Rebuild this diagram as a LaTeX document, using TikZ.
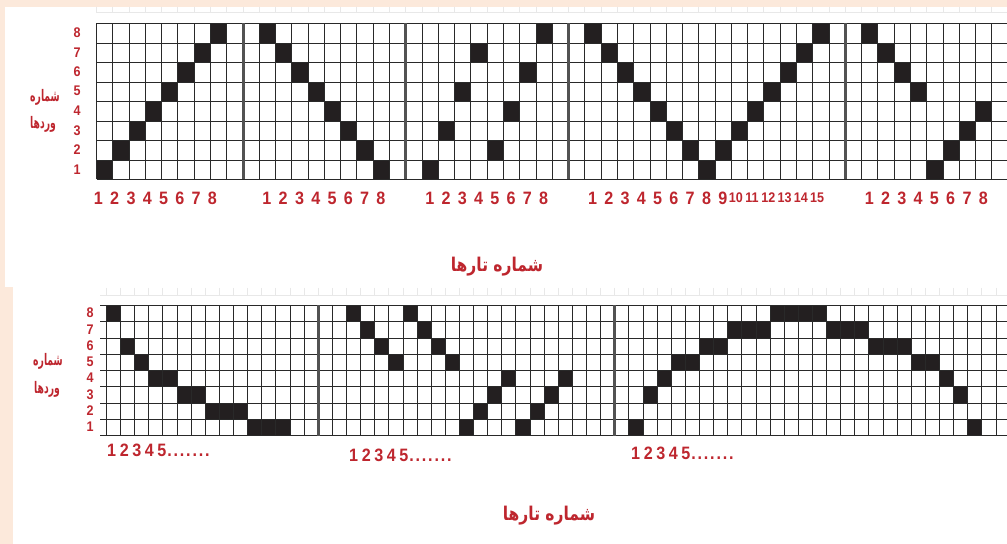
\documentclass[tikz,border=0pt]{standalone}
\usepackage{fontspec}
\setmainfont{Liberation Sans}
\newfontfamily\cifras[FakeStretch=0.9]{Liberation Sans}
\newfontfamily\arabicfont[Script=Arabic,FakeStretch=0.58]{DejaVu Sans}
\newfontfamily\arabictitulo[Script=Arabic,FakeStretch=0.82]{DejaVu Sans}
\TeXXeTstate=1
\definecolor{rojo}{RGB}{190,38,46}
\definecolor{durazno}{RGB}{252,233,219}
\definecolor{oscuro}{RGB}{35,31,32}
\newcommand{\serie}{1\kern3.6pt 2\kern3.6pt 3\kern3.6pt 4\kern3.6pt 5\kern1pt
  .\kern1.8pt.\kern1.8pt.\kern1.8pt.\kern1.8pt.\kern1.8pt.\kern1.8pt.}

\begin{document}
\begin{tikzpicture}[x=1bp,y=-1bp,
    declare function={xa(\i)=round(96+\i*16.28)+0.5; ya(\j)=round(179-\j*19.5)+0.5;
      xb(\i)=round(106+\i*14.12)+0.5; yb(\j)=round(435-\j*16.25)+0.5;},
    celda/.style={fill=oscuro},
    linea/.style={draw=black!84,line width=1.7bp},
    corte/.style={draw=black!68,line width=3bp},
    sombra/.style={draw=black!9,line width=0.8bp},
    cifra/.style={text=rojo,inner sep=0pt,font=\cifras\bfseries\fontsize{18}{18}\selectfont},
    cifrita/.style={text=rojo,inner sep=0pt,font=\cifras\bfseries\fontsize{14}{14}\selectfont},
    fila/.style={text=rojo,inner sep=0pt,font=\cifras\bfseries\fontsize{14}{14}\selectfont},
    rotulo/.style={text=rojo,inner sep=0pt,font=\arabicfont\bfseries\fontsize{16}{16}\selectfont},
    titulo/.style={text=rojo,inner sep=0pt,font=\arabictitulo\bfseries\fontsize{19}{19}\selectfont}]
    \useasboundingbox (0,0) rectangle (1007,544);
    \clip (0,0) rectangle (1007,544);

    % Fondo
    \fill[durazno] (0,0) rectangle (1007,544);
    \fill[white] (5,7) rectangle (1007,287);
    \fill[white] (13,287) rectangle (1007,544);

    % Marcas claras
    \draw[sombra] (96,12) -- (1007,12);
    \foreach \i in {0,...,56} \draw[sombra] ({xa(\i)},7) -- ({xa(\i)},12);
    \draw[sombra] (100,295) -- (1007,295);
    \foreach \i in {0,...,64} \draw[sombra] ({xb(\i)},288) -- ({xb(\i)},295);

    % Diagrama de arriba
    \foreach \col/\fil in {1/1,2/2,3/3,4/4,5/5,6/6,7/7,8/8,
        11/8,12/7,13/6,14/5,15/4,16/3,17/2,18/1,
        21/1,22/3,23/5,24/7,25/2,26/4,27/6,28/8,
        31/8,32/7,33/6,34/5,35/4,36/3,37/2,38/1,39/2,40/3,41/4,42/5,43/6,44/7,45/8,
        48/8,49/7,50/6,51/5,52/1,53/2,54/3,55/4}
      \fill[celda] ({xa(\col-1)},{ya(\fil)}) rectangle ({xa(\col)},{ya(\fil-1)});
    \foreach \i in {0,...,56} \draw[linea] ({xa(\i)},{ya(8)}) -- ({xa(\i)},{ya(0)});
    \foreach \j in {0,...,8} \draw[linea] ({xa(0)},{ya(\j)}) -- (1010,{ya(\j)});
    \foreach \i in {9,19,29,46} \draw[corte] ({xa(\i)},{ya(8)}) -- ({xa(\i)},{ya(0)});
    \foreach \n in {1,...,8} \node[fila] (fa\n) at (77,{179-(\n-0.5)*19.5}) {\n};
    \foreach \n in {1,...,8} \node[cifra] (a\n) at ({96+(\n-0.85)*16.28},198) {\n};
    \foreach \n in {1,...,8} \node[cifra] (b\n) at ({96+(\n+9.5)*16.28},198) {\n};
    \foreach \n in {1,...,8} \node[cifra] (c\n) at ({96+(\n+19.5)*16.28},198) {\n};
    \foreach \n in {1,...,9} \node[cifra] (d\n) at ({96+(\n+29.5)*16.28},198) {\n};
    \foreach \n in {10,...,15} \node[cifrita] (d\n) at ({96+(\n+29.3)*16.28},198) {\n};
    \foreach \n in {1,...,8} \node[cifra] (e\n) at ({96+(\n+46.5)*16.28},198) {\n};
    \node[rotulo] (va1) at (45,97) {\beginR شماره\endR};
    \node[rotulo] (va2) at (43,124) {\beginR وردها\endR};
    \node[titulo] (ta) at (497,267) {\beginR شماره تارها\endR};

    % Diagrama de abajo
    \foreach \col/\fil in {1/8,2/6,3/5,4/4,5/4,6/3,7/3,8/2,9/2,10/2,11/1,12/1,13/1,
        18/8,19/7,20/6,21/5,22/8,23/7,24/6,25/5,26/1,27/2,28/3,29/4,30/1,31/2,32/3,33/4,
        38/1,39/3,40/4,41/5,42/5,43/6,44/6,45/7,46/7,47/7,48/8,49/8,50/8,51/8,
        52/7,53/7,54/7,55/6,56/6,57/6,58/5,59/5,60/4,61/3,62/1}
      \fill[celda] ({xb(\col-1)},{yb(\fil)}) rectangle ({xb(\col)},{yb(\fil-1)});
    \foreach \i in {0,...,64} \draw[linea] ({xb(\i)},{yb(8)}) -- ({xb(\i)},{yb(0)});
    \foreach \j in {0,...,8} \draw[linea] (100,{yb(\j)}) -- (1010,{yb(\j)});
    \foreach \i in {15,36} \draw[corte] ({xb(\i)},{yb(8)}) -- ({xb(\i)},{yb(0)});
    \foreach \n in {1,...,8} \node[fila] (fb\n) at (90,{435-(\n-0.5)*16.25}) {\n};
    \node[cifra,anchor=west] (ea) at (107,450) {\serie};
    \node[cifra,anchor=west] (eb) at (349,455) {\serie};
    \node[cifra,anchor=west] (ec) at (631,453) {\serie};
    \node[rotulo] (vb1) at (48,361) {\beginR شماره\endR};
    \node[rotulo] (vb2) at (47,389) {\beginR وردها\endR};
    \node[titulo] (tb) at (549,516) {\beginR شماره تارها\endR};
\end{tikzpicture}
\end{document}
